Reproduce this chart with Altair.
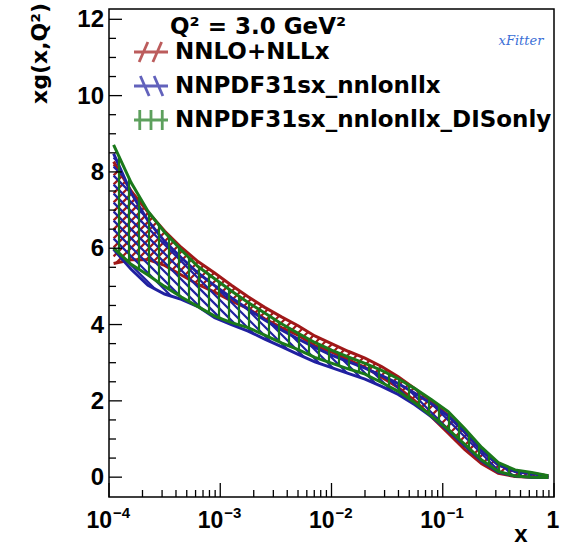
import altair as alt
import numpy as np
import pandas as pd

# ---------------- data ----------------
x_vals = [1.1e-4, 1.58e-4, 2.24e-4, 3.16e-4, 4.47e-4, 6.31e-4, 8.91e-4,
          1.26e-3, 1.78e-3, 2.51e-3, 3.55e-3, 5.01e-3, 7.08e-3, 1.0e-2,
          1.41e-2, 2.0e-2, 2.82e-2, 3.98e-2, 5.62e-2, 7.94e-2, 0.112,
          0.158, 0.224, 0.316, 0.447, 0.631, 0.891]

red_up = [8.27, 7.50, 6.95, 6.45, 6.02, 5.65, 5.35, 5.03, 4.73, 4.45, 4.20,
          3.97, 3.70, 3.50, 3.30, 3.12, 2.90, 2.63, 2.32, 1.98, 1.62, 1.18,
          0.70, 0.32, 0.16, 0.10, 0.03]
red_lo = [5.60, 5.70, 5.70, 5.55, 5.30, 5.05, 4.85, 4.62, 4.42, 4.15, 3.92,
          3.72, 3.45, 3.28, 3.08, 2.88, 2.62, 2.35, 2.00, 1.58, 1.15, 0.72,
          0.35, 0.10, 0.02, 0.00, -0.01]

blue_up = [8.48, 7.45, 6.72, 6.18, 5.75, 5.35, 5.02, 4.70, 4.40, 4.12, 3.86,
           3.62, 3.40, 3.20, 3.03, 2.86, 2.66, 2.45, 2.20, 1.92, 1.60, 1.18,
           0.70, 0.32, 0.15, 0.09, 0.03]
blue_lo = [5.97, 5.45, 5.03, 4.80, 4.66, 4.47, 4.18, 4.00, 3.83, 3.62, 3.42,
           3.22, 3.02, 2.87, 2.72, 2.57, 2.38, 2.17, 1.90, 1.58, 1.22, 0.82,
           0.42, 0.13, 0.03, 0.00, -0.01]

green_up = [8.71, 7.72, 6.97, 6.42, 5.95, 5.52, 5.20, 4.88, 4.58, 4.30, 4.02,
            3.77, 3.53, 3.33, 3.15, 2.98, 2.80, 2.58, 2.32, 2.03, 1.72, 1.27,
            0.78, 0.38, 0.19, 0.12, 0.04]
green_lo = [6.00, 5.58, 5.30, 5.00, 4.72, 4.47, 4.22, 4.05, 3.92, 3.72, 3.52,
            3.34, 3.14, 2.99, 2.84, 2.70, 2.48, 2.25, 1.95, 1.60, 1.25, 0.86,
            0.45, 0.15, 0.03, 0.00, -0.01]

names = ["NNLO+NLLx", "NNPDF31sx_nnlonllx", "NNPDF31sx_nnlonllx_DISonly"]
colors = ["#a01818", "#2020a0", "#1a781a"]
hatch_kinds = ["/", "\\", "|"]
legend_paths = [
    "M-1.36,0L1.36,0M-0.95,0.8L-0.25,-0.8M0.15,0.8L0.85,-0.8",
    "M-1.36,0L1.36,0M-0.85,-0.8L-0.15,0.8M0.25,-0.8L0.95,0.8",
    "M-1.36,0L1.36,0M-0.9,-0.8L-0.9,0.8M0,-0.8L0,0.8M0.9,-0.8L0.9,0.8",
]
header = "Q\u00b2 = 3.0 GeV\u00b2"
y_title = "xg(x,Q\u00b2)"
x_title = "x"
logo_text = "xFitter"

y_major = [0, 2, 4, 6, 8, 10, 12]
y_minor = [0.5, 1, 1.5, 2.5, 3, 3.5, 4.5, 5, 5.5, 6.5, 7, 7.5, 8.5, 9, 9.5,
           10.5, 11, 11.5]
x_major = [1e-4, 1e-3, 1e-2, 1e-1, 1.0]
x_minor = [m * 10.0 ** e for e in range(-4, 0) for m in range(2, 10)]
x_label_pos = [1e-4, 1e-3, 1e-2, 1e-1]
x_label_base = ["10", "10", "10", "10"]
x_label_exp = ["\u22124", "\u22123", "\u22122", "\u22121"]

# ---------------- layout ----------------
W, H = 445, 488
YMIN, YMAX = -0.52, 12.27
LX0, LX1 = -4.0, 0.0

xs = alt.Scale(type="log", domain=[10 ** LX0, 10 ** LX1], nice=False)
ys = alt.Scale(domain=[YMIN, YMAX], nice=False, zero=False)


def px(lx):
    return W * (lx - LX0) / (LX1 - LX0)


def py(v):
    return H * (YMAX - v) / (YMAX - YMIN)


def v_of_py(p):
    return YMAX - p * (YMAX - YMIN) / H


def lx_of_px(p):
    return LX0 + p * (LX1 - LX0) / W


def hatch_segments(xv, lo, up, kind, step):
    lx = np.log10(np.array(xv))
    lo = np.array(lo)
    up = np.array(up)
    lxf = np.linspace(lx[0], lx[-1], 6000)
    lof = np.interp(lxf, lx, lo)
    upf = np.interp(lxf, lx, up)
    X = px(lxf)
    Ylo = py(lof)
    Yup = py(upf)
    segs = []
    if kind == "|":
        start = np.ceil(X[0] / step) * step
        for Xk in np.arange(start, X[-1], step):
            l = lx_of_px(Xk)
            segs.append((l, float(np.interp(l, lx, lo)), l, float(np.interp(l, lx, up))))
    else:
        sgn = -1.0 if kind == "/" else 1.0
        cmin = (Yup - sgn * X).min()
        cmax = (Ylo - sgn * X).max()
        for c in np.arange(np.floor(cmin / step) * step, cmax + step, step):
            Yl = c + sgn * X
            m = (Yl >= Yup) & (Yl <= Ylo)
            if not m.any():
                continue
            d = np.diff(np.concatenate([[0], m.astype(int), [0]]))
            starts = np.where(d == 1)[0]
            ends = np.where(d == -1)[0] - 1
            for s, e in zip(starts, ends):
                if e <= s:
                    continue
                segs.append((lxf[s], v_of_py(Yl[s]), lxf[e], v_of_py(Yl[e])))
    df = pd.DataFrame(segs, columns=["l1", "v1", "l2", "v2"])
    df["x1"] = 10 ** df["l1"]
    df["x2"] = 10 ** df["l2"]
    return df[["x1", "v1", "x2", "v2"]]


bands = [(red_lo, red_up), (blue_lo, blue_up), (green_lo, green_up)]
steps = [9, 9, 10]

layers = []
for (lo, up), col, kind, st in zip(bands, colors, hatch_kinds, steps):
    hdf = hatch_segments(x_vals, lo, up, kind, st)
    layers.append(
        alt.Chart(hdf).mark_rule(color=col, strokeWidth=2.2).encode(
            x=alt.X("x1:Q", scale=xs, axis=None),
            x2="x2:Q",
            y=alt.Y("v1:Q", scale=ys, axis=None),
            y2="v2:Q",
        )
    )
    ldf = pd.DataFrame({
        "x": list(x_vals) * 2,
        "v": list(lo) + list(up),
        "bound": ["lo"] * len(lo) + ["up"] * len(up),
    })
    layers.append(
        alt.Chart(ldf).mark_line(color=col, strokeWidth=3).encode(
            x=alt.X("x:Q", scale=xs, axis=None),
            y=alt.Y("v:Q", scale=ys, axis=None),
            detail="bound:N",
        )
    )

# legend (real Vega-Lite legend, driven by scale domain)
leg = alt.Legend(
    orient="none", legendX=28, legendY=29, title=None, padding=0,
    labelFont="DejaVu Sans", labelFontWeight="bold", labelFontSize=23,
    labelColor="black", labelLimit=600, labelOffset=10,
    symbolSize=625, symbolStrokeWidth=2.8, rowPadding=2,
)
legend_layer = alt.Chart(pd.DataFrame({"series": names, "x": [1e-2] * 3, "v": [5.0] * 3})).mark_point(
    filled=False, strokeWidth=2.8
).encode(
    x=alt.X("x:Q", scale=xs, axis=None),
    y=alt.Y("v:Q", scale=ys, axis=None),
    color=alt.Color("series:N", scale=alt.Scale(domain=names, range=colors), legend=leg),
    shape=alt.Shape("series:N", scale=alt.Scale(domain=names, range=legend_paths), legend=leg),
).transform_filter("false")
layers.append(legend_layer)

# ticks (inside the frame)
layers.append(alt.Chart(pd.DataFrame({"x": x_major})).mark_rule(color="black", strokeWidth=1.3).encode(
    x=alt.X("x:Q", scale=xs, axis=None), y=alt.value(H), y2=alt.value(H - 14)))
layers.append(alt.Chart(pd.DataFrame({"x": x_minor})).mark_rule(color="black", strokeWidth=1.3).encode(
    x=alt.X("x:Q", scale=xs, axis=None), y=alt.value(H), y2=alt.value(H - 7)))
layers.append(alt.Chart(pd.DataFrame({"v": y_major})).mark_rule(color="black", strokeWidth=1.3).encode(
    y=alt.Y("v:Q", scale=ys, axis=None), x=alt.value(0), x2=alt.value(13)))
layers.append(alt.Chart(pd.DataFrame({"v": y_minor})).mark_rule(color="black", strokeWidth=1.3).encode(
    y=alt.Y("v:Q", scale=ys, axis=None), x=alt.value(0), x2=alt.value(7)))

# tick labels
layers.append(alt.Chart(pd.DataFrame({"v": y_major, "t": [str(v) for v in y_major]})).mark_text(
    font="Liberation Sans", fontWeight="bold", fontSize=24, align="right", baseline="middle", dy=1, color="black"
).encode(y=alt.Y("v:Q", scale=ys, axis=None), x=alt.value(-5), text="t:N"))

layers.append(alt.Chart(pd.DataFrame({"x": x_label_pos, "t": x_label_base})).mark_text(
    font="Liberation Sans", fontWeight="bold", fontSize=23, align="right", baseline="alphabetic", dx=3, color="black"
).encode(x=alt.X("x:Q", scale=xs, axis=None), y=alt.value(H + 31), text="t:N"))
layers.append(alt.Chart(pd.DataFrame({"x": x_label_pos, "t": x_label_exp})).mark_text(
    font="Liberation Sans", fontWeight="bold", fontSize=15, align="left", baseline="alphabetic", dx=4, color="black"
).encode(x=alt.X("x:Q", scale=xs, axis=None), y=alt.value(H + 21), text="t:N"))
layers.append(alt.Chart(pd.DataFrame({"x": [1.0], "t": ["1"]})).mark_text(
    font="Liberation Sans", fontWeight="bold", fontSize=23, align="center", baseline="alphabetic", dx=-1, color="black"
).encode(x=alt.X("x:Q", scale=xs, axis=None), y=alt.value(H + 31), text="t:N"))

# axis titles, header, logo
layers.append(alt.Chart(pd.DataFrame({"t": [x_title]})).mark_text(
    font="Liberation Sans", fontWeight="bold", fontSize=24, align="center", baseline="alphabetic", color="black"
).encode(x=alt.value(412), y=alt.value(533), text="t:N"))
layers.append(alt.Chart(pd.DataFrame({"t": [y_title]})).mark_text(
    font="DejaVu Sans", fontWeight="bold", fontSize=22, align="right", baseline="alphabetic", angle=270,
    color="black"
).encode(x=alt.value(-62), y=alt.value(-6), text="t:N"))
layers.append(alt.Chart(pd.DataFrame({"t": [header]})).mark_text(
    font="DejaVu Sans", fontWeight="bold", fontSize=23, align="left", baseline="alphabetic", color="black"
).encode(x=alt.value(61), y=alt.value(25), text="t:N"))
layers.append(alt.Chart(pd.DataFrame({"t": [logo_text]})).mark_text(
    font="DejaVu Serif", fontStyle="italic", fontSize=13, align="center", baseline="middle", color="#3a6ed6"
).encode(x=alt.value(412), y=alt.value(32), text="t:N"))

chart = alt.layer(*layers).properties(
    width=W, height=H,
    padding={"left": 109, "top": 9, "right": 11, "bottom": 50},
    autosize=alt.AutoSizeParams(type="none"),
    background="white",
).configure_view(stroke="black", strokeWidth=1.5)

chart.save("out.html", embed_options={"renderer": "svg", "actions": False})
